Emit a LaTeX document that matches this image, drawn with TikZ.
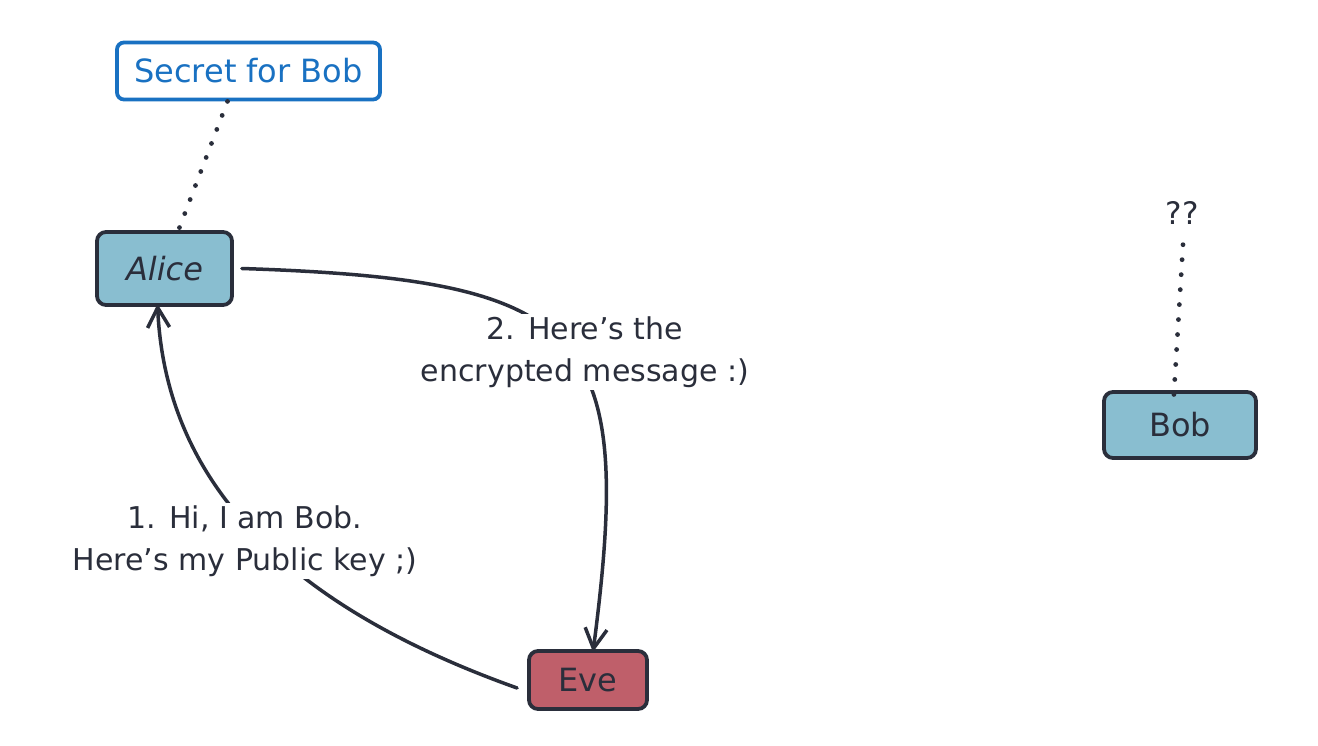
\documentclass[tikz,border=0pt]{standalone}
\usepackage{fontspec}
\setmainfont{DejaVu Sans}
\usetikzlibrary{arrows.meta}
\definecolor{ink}{HTML}{2A2E3B}
\definecolor{bluefill}{HTML}{89BED0}
\definecolor{redfill}{HTML}{BF5F6A}
\definecolor{bluestroke}{HTML}{1971C2}
\tikzset{
  actor/.style={draw=ink, line width=3.8pt, rounded corners=9pt, inner sep=0pt, text=ink, font=\fontsize{32}{34}\selectfont},
  lbl/.style={fill=white, inner sep=2pt, align=center, text=ink, font=\fontsize{30}{42}\selectfont},
  conn/.style={draw=ink, line width=3.5pt, line cap=round, -{Straight Barb[length=20pt,width=22pt,line width=3.5pt]}},
  dotline/.style={draw=ink, line width=4.8pt, line cap=round, dash pattern=on 0pt off 15pt}
}
\begin{document}
\begin{tikzpicture}[x=1pt,y=-1pt]
\useasboundingbox (0,0) rectangle (1318,746);
\node[draw=bluestroke, line width=3.8pt, rounded corners=7pt, fill=white, minimum width=263pt, minimum height=57pt, inner sep=0pt, text=bluestroke, font=\fontsize{32}{34}\selectfont] (secret) at (248.5,71) {Secret for Bob};
\node[actor, fill=bluefill, minimum width=135pt, minimum height=73pt] (alice) at (164.5,268.5) {\itshape Alice};
\node[actor, fill=bluefill, minimum width=152pt, minimum height=66pt] (bob) at (1180,425) {Bob};
\node[actor, fill=redfill, minimum width=118pt, minimum height=58pt] (eve) at (588,680) {Eve};
\node[text=ink, font=\fontsize{31}{32}\selectfont, inner sep=0pt] (qq) at (1182,213) {??};

\draw[dotline] ([xshift=-21pt]secret.south) -- ([xshift=14pt]alice.north);
\draw[dotline] ([xshift=1pt,yshift=-20pt]qq.south) -- ([xshift=-7pt,yshift=-19pt]bob.north);

\draw[conn] ([xshift=-10pt,yshift=-8pt]eve.west) .. controls (270,600) and (165,470) .. ([xshift=-7pt,yshift=3pt]alice.south);
\draw[conn] ([xshift=8pt]alice.east) .. controls (590,280) and (635,330) .. ([xshift=5pt,yshift=-3pt]eve.north);

\node[lbl] (l1) at (245,541) {1. Hi, I am Bob.\\Here's my Public key ;)};
\node[lbl] (l2) at (585,352) {2. Here's the\\encrypted message :)};
\end{tikzpicture}
\end{document}
